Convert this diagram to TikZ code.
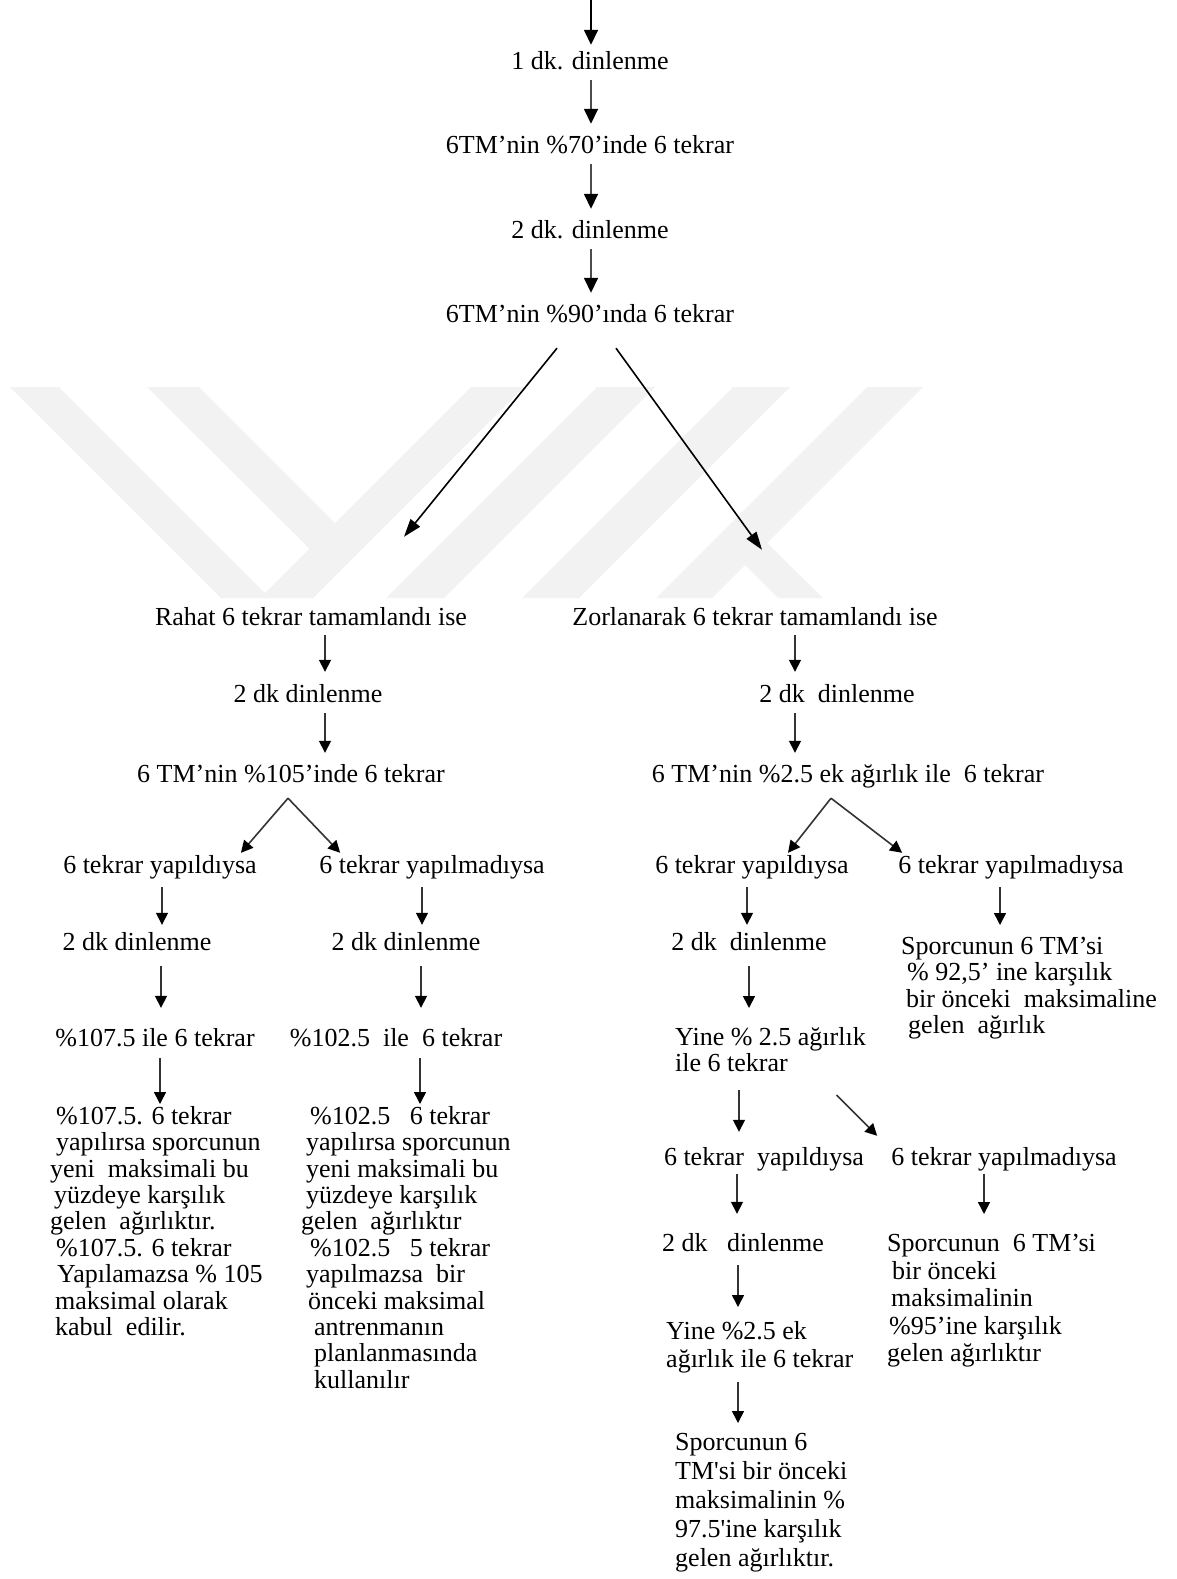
\documentclass[tikz,border=0pt]{standalone}
\usepackage{fontspec}
\setmainfont{Liberation Serif}
\usetikzlibrary{arrows.meta,positioning}

\tikzset{
  yazi/.style={inner sep=0pt, text height=18pt, text depth=5pt, font=\fontsize{26}{26.4}\selectfont},
  paragraf/.style={inner sep=0pt, anchor=north west, align=left, font=\fontsize{26}{26.4}\selectfont},
  inceok/.style={draw=black!70, line width=1.6pt, -{Triangle[length=15pt,width=14pt,color=black]}, shorten <=5.5pt, shorten >=11.5pt},
  kalinok/.style={draw=black!80, line width=1.6pt, -{Triangle[length=12pt,width=12pt,color=black]}},
  capraz/.style={line width=1.6pt, -{Triangle[length=18pt,width=12pt]}},
  filigran/.style={fill=black!5, draw=none}
}

\begin{document}
\begin{tikzpicture}[x=1pt, y=-1pt]

    % Page frame
    \useasboundingbox (0,0) rectangle (1177,1579);

    % Faint watermark bands behind the split
    \fill[filigran] (10,387) -- (59,387) -- (270,598) -- (221,598) -- cycle;
    \fill[filigran] (147,387) -- (199,387) -- (361,549) -- (336,575) -- cycle;
    \fill[filigran] (471,387) -- (524,387) -- (313,598) -- (260,598) -- cycle;
    \fill[filigran] (597,387) -- (655,387) -- (444,598) -- (386,598) -- cycle;
    \fill[filigran] (733,387) -- (790,387) -- (579,598) -- (522,598) -- cycle;
    \fill[filigran] (867,387) -- (923,387) -- (712,598) -- (656,598) -- cycle;
    \fill[filigran] (767,543) -- (823,598) -- (778,598) -- (745,565) -- cycle;

    % Warm-up chain
    \coordinate (bas) at (591,0);
    \node[yazi] (d1) at (590,63) {1 dk. dinlenme};
    \node[yazi] (t70) at (590,147) {6TM’nin \%70’inde 6 tekrar};
    \node[yazi] (d2) at (590,232) {2 dk. dinlenme};
    \node[yazi] (t90) at (590,316) {6TM’nin \%90’ında 6 tekrar};

    \draw[inceok, draw=black, shorten <=0pt, shorten >=6.5pt] (bas) -- (d1.north -| bas);
    \draw[inceok] (d1.south -| bas) -- (t70.north -| bas);
    \draw[inceok] (t70.south -| bas) -- (d2.north -| bas);
    \draw[inceok] (d2.south -| bas) -- (t90.north -| bas);

    % The two cases
    \node[yazi] (rahat) at (311,619) {Rahat 6 tekrar tamamlandı ise};
    \node[yazi] (zor) at (755,619) {Zorlanarak 6 tekrar tamamlandı ise};

    \draw[capraz] ([xshift=-33pt,yshift=-20.5pt]t90.south) -- ([xshift=93pt,yshift=70.5pt]rahat.north);
    \draw[capraz] ([xshift=26pt,yshift=-20.5pt]t90.south) -- ([xshift=7pt,yshift=57.5pt]zor.north);

    % Left branch: easy
    \node[yazi] (dkA) at (308,696) {2 dk dinlenme};
    \node[yazi] (yuz105) at (291,776) {6 TM’nin \%105’inde 6 tekrar};
    \draw[kalinok, shorten <=4.5pt, shorten >=12.5pt] (rahat.south -| 325,0) -- (dkA.north -| 325,0);
    \draw[kalinok, shorten <=5.5pt, shorten >=11.5pt] (dkA.south -| 325,0) -- (yuz105.north -| 325,0);

    \node[yazi] (yapA) at (160,867) {6 tekrar yapıldıysa};
    \node[yazi] (yapmA) at (432,867) {6 tekrar yapılmadıysa};
    \draw[kalinok] ([xshift=-3pt,yshift=-10.5pt]yuz105.south) -- ([xshift=-16pt,yshift=2.5pt]yapA.north east);
    \draw[kalinok] ([xshift=-3pt,yshift=-10.5pt]yuz105.south) -- ([xshift=21pt,yshift=2.5pt]yapmA.north west);

    \node[yazi] (dkA2) at (137,944) {2 dk dinlenme};
    \node[yazi] (dkA3) at (406,944) {2 dk dinlenme};
    \draw[kalinok, shorten <=8.5pt, shorten >=7.5pt] (yapA.south -| 162,0) -- (dkA2.north -| 162,0);
    \draw[kalinok, shorten <=8.5pt, shorten >=7.5pt] (yapmA.south -| 422,0) -- (dkA3.north -| 422,0);

    \node[yazi] (y1075) at (155,1040) {\%107.5 ile 6 tekrar};
    \node[yazi] (y1025) at (396,1040) {\%102.5\ \ ile\ \ 6 tekrar};
    \draw[kalinok, shorten <=10.5pt, shorten >=20.5pt] (dkA2.south -| 161,0) -- (y1075.north -| 161,0);
    \draw[kalinok, shorten <=10.5pt, shorten >=20.5pt] (dkA3.south -| 421,0) -- (y1025.north -| 421,0);

    \node[paragraf] (sonucA) at (50,1106) {\hspace{6pt}\%107.5. 6 tekrar\\
      \hspace{6pt}yapılırsa sporcunun\\
      yeni\ \ maksimali bu\\
      \hspace{4pt}yüzdeye karşılık\\
      gelen\ \ ağırlıktır.\\
      \hspace{6pt}\%107.5. 6 tekrar\\
      \hspace{7pt}Yapılamazsa \% 105\\
      \hspace{5pt}maksimal olarak\\
      \hspace{5pt}kabul\ \ edilir.};
    \node[paragraf] (sonucB) at (301,1106) {\hspace{9pt}\%102.5\ \ \ 6 tekrar\\
      \hspace{5pt}yapılırsa sporcunun\\
      \hspace{5pt}yeni maksimali bu\\
      \hspace{5pt}yüzdeye karşılık\\
      gelen\ \ ağırlıktır\\
      \hspace{9pt}\%102.5\ \ \ 5 tekrar\\
      \hspace{5pt}yapılmazsa\ \ bir\\
      \hspace{7pt}önceki maksimal\\
      \hspace{13pt}antrenmanın\\
      \hspace{13pt}planlanmasında\\
      \hspace{13pt}kullanılır};
    \draw[kalinok, shorten <=6.5pt, shorten >=2pt] (y1075.south -| 160,0) -- (sonucA.north -| 160,0);
    \draw[kalinok, shorten <=6.5pt, shorten >=2pt] (y1025.south -| 420,0) -- (sonucB.north -| 420,0);

    % Right branch: hard
    \node[yazi] (dkB) at (837,696) {2 dk\ \ dinlenme};
    \node[yazi] (ek25) at (848,776) {6 TM’nin \%2.5 ek ağırlık ile\ \ 6 tekrar};
    \draw[kalinok, shorten <=4.5pt, shorten >=12.5pt] (zor.south -| 795,0) -- (dkB.north -| 795,0);
    \draw[kalinok, shorten <=5.5pt, shorten >=11.5pt] (dkB.south -| 795,0) -- (ek25.north -| 795,0);

    \node[yazi] (yapB) at (752,867) {6 tekrar yapıldıysa};
    \node[yazi] (yapmB) at (1011,867) {6 tekrar yapılmadıysa};
    \draw[kalinok] ([xshift=-17pt,yshift=-10.5pt]ek25.south) -- ([xshift=36pt,yshift=2.5pt]yapB.north);
    \draw[kalinok] ([xshift=-17pt,yshift=-10.5pt]ek25.south) -- ([xshift=4pt,yshift=2.5pt]yapmB.north west);

    \node[yazi] (dkB2) at (749,944) {2 dk\ \ dinlenme};
    \node[paragraf] (spor1) at (901,937) {Sporcunun 6 TM’si\\
      \hspace{6pt}\% 92,5’ ine karşılık\\
      \hspace{5pt}bir önceki\ \ maksimaline\\
      \hspace{7pt}gelen\ \ ağırlık};
    \draw[kalinok, shorten <=8.5pt, shorten >=7.5pt] (yapB.south -| 747,0) -- (dkB2.north -| 747,0);
    \draw[kalinok, shorten <=8.5pt, shorten >=12pt] (yapmB.south -| 1000,0) -- (spor1.north -| 1000,0);

    \node[paragraf] (yine1) at (675,1027) {Yine \% 2.5 ağırlık\\ile 6 tekrar};
    \draw[kalinok, shorten <=10.5pt, shorten >=19pt] (dkB2.south -| 749,0) -- (yine1.north -| 749,0);

    \node[yazi] (yapC) at (764,1159) {6 tekrar\ \ yapıldıysa};
    \node[yazi] (yapmC) at (1004,1159) {6 tekrar yapılmadıysa};
    \draw[kalinok, shorten <=17.5pt, shorten >=15.5pt] (yine1.south -| 739,0) -- (yapC.north -| 739,0);
    \draw[kalinok] ([xshift=66pt,yshift=-23pt]yine1.south) -- ([xshift=-14pt,yshift=11.5pt]yapmC.north west);

    \node[yazi] (dkC) at (743,1245) {2 dk\ \ \ dinlenme};
    \node[paragraf, font=\fontsize{26}{27.5}\selectfont] (spor2) at (887,1234) {Sporcunun\ \ 6 TM’si\\
      \hspace{5pt}bir önceki\\
      \hspace{4pt}maksimalinin\\
      \hspace{2pt}\%95’ine karşılık\\
      gelen ağırlıktır};
    \draw[kalinok, shorten <=3.5pt, shorten >=19.5pt] (yapC.south -| 737,0) -- (dkC.north -| 737,0);
    \draw[kalinok, shorten <=3.5pt, shorten >=20pt] (yapmC.south -| 984,0) -- (spor2.north -| 984,0);

    \node[paragraf, font=\fontsize{26}{28}\selectfont] (yine2) at (666,1321) {Yine \%2.5 ek\\ağırlık ile 6 tekrar};
    \draw[kalinok, shorten <=8.5pt, shorten >=14pt] (dkC.south -| 738,0) -- (yine2.north -| 738,0);

    \node[paragraf, font=\fontsize{26}{29}\selectfont] (spor3) at (675,1433) {Sporcunun 6\\
      TM\textquotesingle si bir önceki\\
      maksimalinin \%\\
      97.5\textquotesingle ine karşılık\\
      gelen ağırlıktır.};
    \draw[kalinok, shorten <=9pt, shorten >=10pt] (yine2.south -| 738,0) -- (spor3.north -| 738,0);

\end{tikzpicture}
\end{document}
